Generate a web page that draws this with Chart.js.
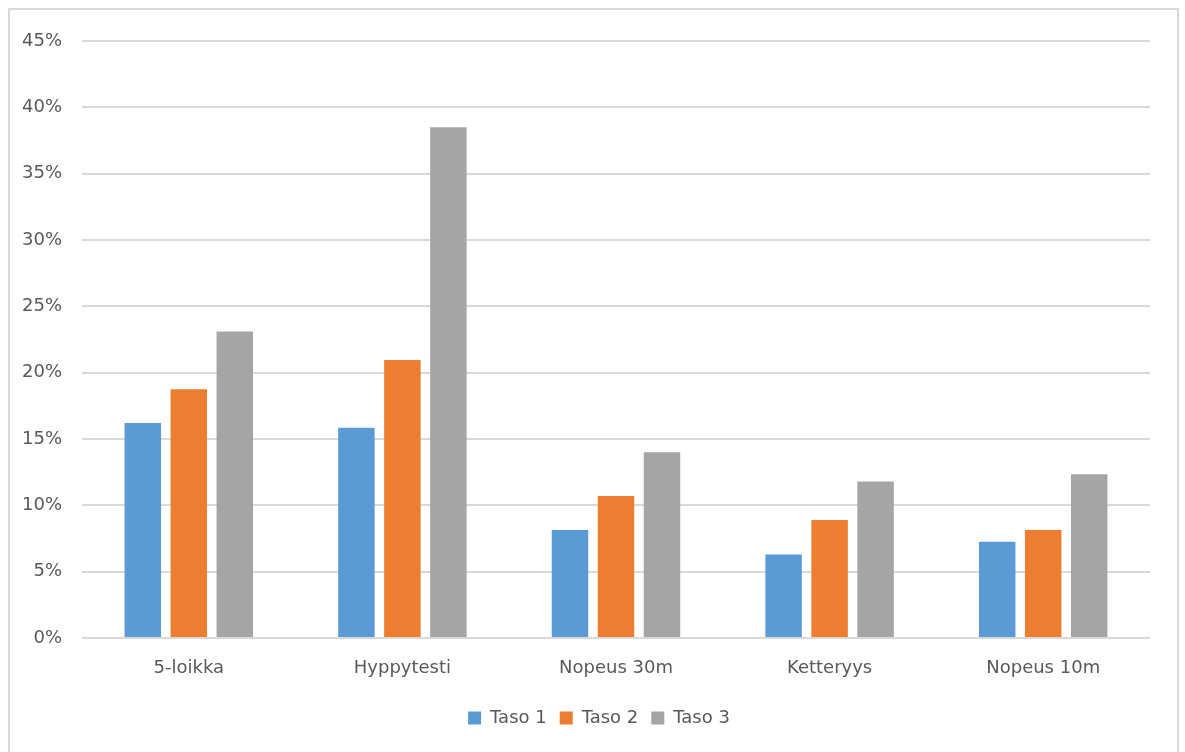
<!DOCTYPE html>
<html>
<head>
<meta charset="utf-8">
<script src="https://cdn.jsdelivr.net/npm/chart.js@4/dist/chart.umd.min.js"></script>
<style>
  html, body { margin: 0; padding: 0; background: #ffffff; overflow: hidden; }
  #frame {
    position: absolute; left: 8px; top: 8px; width: 1171px; height: 800px;
    border: 2px solid #d9d9d9; box-sizing: border-box;
  }
  #wrap { position: absolute; left: 0; top: 0; width: 1185px; height: 752px; }
</style>
</head>
<body>
<div id="frame"></div>
<div id="wrap"><canvas id="chart" width="1185" height="752"></canvas></div>
<script>
// Test categories and shares per level (percent)
const categories = ['5-loikka', 'Hyppytesti', 'Nopeus 30m', 'Ketteryys', 'Nopeus 10m'];
const taso1 = [16.2, 15.85, 8.15, 6.3, 7.25];
const taso2 = [18.75, 20.95, 10.7, 8.9, 8.15];
const taso3 = [23.1, 38.5, 14.0, 11.8, 12.35];
const seriesNames = ['Taso 1', 'Taso 2', 'Taso 3'];
const seriesColors = ['#5b9bd5', '#ed7d31', '#a5a5a5'];
const yTicks = [0, 5, 10, 15, 20, 25, 30, 35, 40, 45];

const textColor = '#595959';
const fontFamily = '"DejaVu Sans", sans-serif';

// Centre the legend on the whole frame rather than on the plot width
const legendShift = {
  id: 'legendShift',
  afterLayout(chart) {
    const lg = chart.legend;
    if (lg) { lg.left += 24; lg.right += 24; }
  }
};

new Chart(document.getElementById('chart'), {
  type: 'bar',
  data: {
    labels: categories,
    datasets: [taso1, taso2, taso3].map((values, i) => ({
      label: seriesNames[i],
      data: values,
      backgroundColor: seriesColors[i],
      borderWidth: 0,
      categoryPercentage: 0.646,
      barPercentage: 0.793
    }))
  },
  plugins: [legendShift],
  options: {
    responsive: false,
    animation: false,
    devicePixelRatio: 1,
    layout: { padding: { left: 0, top: 41, right: 35, bottom: 15 } },
    plugins: {
      tooltip: { enabled: false },
      legend: {
        position: 'bottom',
        labels: {
          color: textColor,
          font: { family: fontFamily, size: 18 },
          boxWidth: 13,
          boxHeight: 13,
          padding: 13
        }
      }
    },
    scales: {
      x: {
        grid: { display: false, drawTicks: false },
        border: { display: false },
        ticks: { color: textColor, font: { family: fontFamily, size: 18 }, padding: 20 },
        afterFit: (scale) => { scale.height = 58; }
      },
      y: {
        min: yTicks[0],
        max: yTicks[yTicks.length - 1],
        afterBuildTicks: (scale) => { scale.ticks = yTicks.map(v => ({ value: v })); },
        grid: { color: '#d9d9d9', lineWidth: 2, drawTicks: false },
        border: { display: false },
        ticks: {
          color: textColor,
          font: { family: fontFamily, size: 18 },
          padding: 20,
          callback: (v) => v + '%'
        },
        afterFit: (scale) => { scale.width = 82; }
      }
    }
  }
});
</script>
</body>
</html>
